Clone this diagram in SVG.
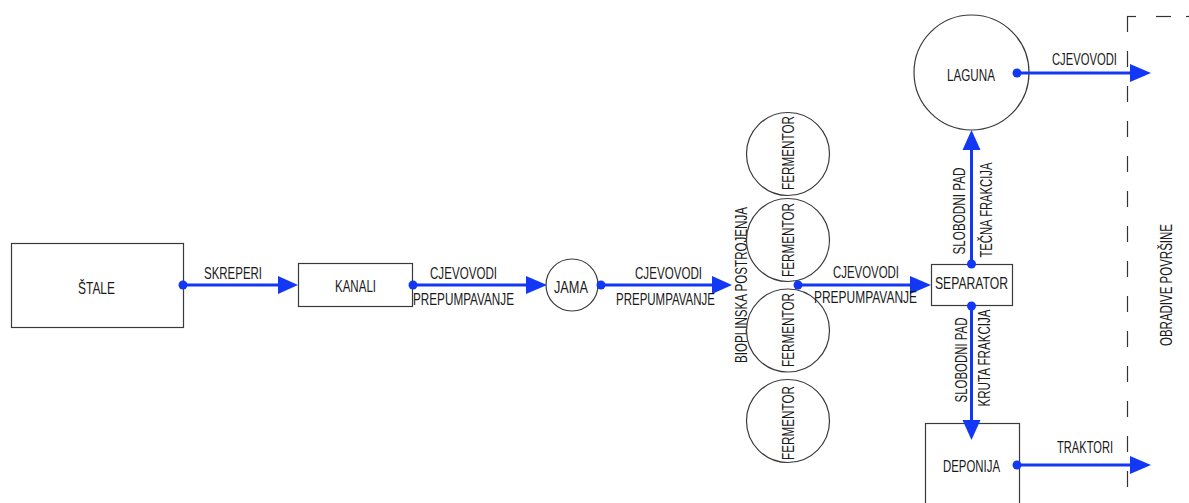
<svg xmlns="http://www.w3.org/2000/svg" width="1189" height="503" viewBox="0 0 1189 503">
<style>
.bg{fill:#ffffff}
.box{fill:#ffffff;stroke:#3a3a3a;stroke-width:1.2}
.t{font-family:"Liberation Sans",Arial,sans-serif;font-size:16.5px;fill:#1a1a1a}
.tm{font-family:"Liberation Sans",Arial,sans-serif;font-size:16.5px;fill:#1a1a1a;text-anchor:middle}
.ln{stroke:#1238f5;stroke-width:3;fill:none}
.ah{fill:#1238f5}
.dot{fill:#1238f5}
.dash{stroke:#333;stroke-width:1.2;fill:none}
</style>
<rect class="bg" x="0" y="0" width="1189" height="503"/>

<g id="border">
<line class="dash" x1="1127.5" y1="16" x2="1127.5" y2="503" stroke-dasharray="16 19"/>
<line class="dash" x1="1127" y1="16.5" x2="1136" y2="16.5"/>
<line class="dash" x1="1156" y1="16.5" x2="1171" y2="16.5"/>
<line class="dash" x1="1186" y1="16.5" x2="1189" y2="16.5"/>
<text class="tm" textLength="122" lengthAdjust="spacingAndGlyphs" transform="translate(1172,285) rotate(-90)">OBRADIVE POVRŠINE</text>
</g>

<g id="stale">
<rect class="box" x="11.5" y="243.5" width="172" height="84"/>
<text class="t" x="78" y="294" textLength="37" lengthAdjust="spacingAndGlyphs">ŠTALE</text>
</g>

<g id="kanali">
<rect class="box" x="298.5" y="263.5" width="114" height="43"/>
<text class="t" x="335" y="292" textLength="41" lengthAdjust="spacingAndGlyphs">KANALI</text>
</g>

<g id="jama">
<circle class="box" cx="572" cy="285" r="26"/>
<text class="t" x="554" y="293" textLength="34" lengthAdjust="spacingAndGlyphs">JAMA</text>
</g>

<g id="bioplinska">
<text class="tm" textLength="156" lengthAdjust="spacingAndGlyphs" transform="translate(747,285) rotate(-90)">BIOPLINSKA POSTROJENJA</text>
</g>

<g id="fermentor1">
<circle class="box" cx="788" cy="154" r="41.5"/>
<text class="tm" textLength="74" lengthAdjust="spacingAndGlyphs" transform="translate(794,153) rotate(-90)">FERMENTOR</text>
</g>
<g id="fermentor2">
<circle class="box" cx="788" cy="240" r="41.5"/>
<text class="tm" textLength="74" lengthAdjust="spacingAndGlyphs" transform="translate(794,240) rotate(-90)">FERMENTOR</text>
</g>
<g id="fermentor3">
<circle class="box" cx="788" cy="330.5" r="41.5"/>
<text class="tm" textLength="74" lengthAdjust="spacingAndGlyphs" transform="translate(794,330) rotate(-90)">FERMENTOR</text>
</g>
<g id="fermentor4">
<circle class="box" cx="788" cy="421" r="41.5"/>
<text class="tm" textLength="74" lengthAdjust="spacingAndGlyphs" transform="translate(794,423) rotate(-90)">FERMENTOR</text>
</g>

<g id="separator">
<rect class="box" x="931.5" y="264.5" width="81" height="41"/>
<text class="t" x="935" y="289" textLength="73" lengthAdjust="spacingAndGlyphs">SEPARATOR</text>
</g>

<g id="laguna">
<circle class="box" cx="971.5" cy="72.5" r="57.5"/>
<text class="t" x="947" y="81" textLength="48" lengthAdjust="spacingAndGlyphs">LAGUNA</text>
</g>

<g id="deponija">
<rect class="box" x="925.5" y="423.5" width="94" height="90"/>
<text class="t" x="943" y="472" textLength="57" lengthAdjust="spacingAndGlyphs">DEPONIJA</text>
</g>

<g id="connectors">
<line class="ln" x1="183" y1="285" x2="280" y2="285"/>
<polygon class="ah" points="278,276 298,285 278,294"/>
<circle class="dot" cx="183" cy="285" r="4.5"/>
<text class="t" x="204" y="279" textLength="58" lengthAdjust="spacingAndGlyphs">SKREPERI</text>

<line class="ln" x1="413" y1="285" x2="528" y2="285"/>
<polygon class="ah" points="526,276 547,285 526,294"/>
<circle class="dot" cx="413" cy="285" r="4.5"/>
<text class="t" x="430" y="279" textLength="67" lengthAdjust="spacingAndGlyphs">CJEVOVODI</text>
<text class="t" x="413" y="305" textLength="101" lengthAdjust="spacingAndGlyphs">PREPUMPAVANJE</text>

<line class="ln" x1="601" y1="285" x2="714" y2="285"/>
<polygon class="ah" points="712,276 732,285 712,294"/>
<circle class="dot" cx="601" cy="285" r="4.5"/>
<text class="t" x="635" y="279" textLength="67" lengthAdjust="spacingAndGlyphs">CJEVOVODI</text>
<text class="t" x="616" y="305" textLength="99" lengthAdjust="spacingAndGlyphs">PREPUMPAVANJE</text>

<line class="ln" x1="798" y1="285" x2="912" y2="285"/>
<polygon class="ah" points="910,276 931,285 910,294"/>
<circle class="dot" cx="798" cy="285" r="4.5"/>
<text class="t" x="833" y="278" textLength="66" lengthAdjust="spacingAndGlyphs">CJEVOVODI</text>
<text class="t" x="814" y="303" textLength="103" lengthAdjust="spacingAndGlyphs">PREPUMPAVANJE</text>

<line class="ln" x1="971.5" y1="264" x2="971.5" y2="148"/>
<polygon class="ah" points="962.5,150 971.5,130 980.5,150"/>
<circle class="dot" cx="971.5" cy="264" r="4.5"/>
<text class="tm" textLength="87" lengthAdjust="spacingAndGlyphs" transform="translate(965,211) rotate(-90)">SLOBODNI PAD</text>
<text class="tm" textLength="95" lengthAdjust="spacingAndGlyphs" transform="translate(992,210) rotate(-90)">TEČNA FRAKCIJA</text>

<line class="ln" x1="971.5" y1="306" x2="971.5" y2="422"/>
<polygon class="ah" points="962.5,420 971.5,440 980.5,420"/>
<circle class="dot" cx="971.5" cy="306" r="4.5"/>
<text class="tm" textLength="85" lengthAdjust="spacingAndGlyphs" transform="translate(967,360) rotate(-90)">SLOBODNI PAD</text>
<text class="tm" textLength="97" lengthAdjust="spacingAndGlyphs" transform="translate(990,358) rotate(-90)">KRUTA FRAKCIJA</text>

<line class="ln" x1="1017" y1="73" x2="1132" y2="73"/>
<polygon class="ah" points="1130,64 1151,73 1130,82"/>
<circle class="dot" cx="1017" cy="73" r="4.5"/>
<text class="t" x="1052" y="65" textLength="65" lengthAdjust="spacingAndGlyphs">CJEVOVODI</text>

<line class="ln" x1="1017" y1="465" x2="1132" y2="465"/>
<polygon class="ah" points="1130,456 1151,465 1130,474"/>
<circle class="dot" cx="1017" cy="465" r="4.5"/>
<text class="t" x="1057" y="453" textLength="56" lengthAdjust="spacingAndGlyphs">TRAKTORI</text>
</g>
</svg>
